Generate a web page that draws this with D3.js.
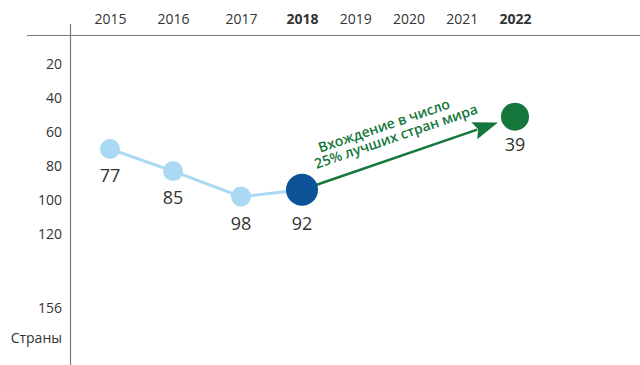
<!DOCTYPE html>
<html><head><meta charset="utf-8">
<script src="https://cdn.jsdelivr.net/npm/d3@7"></script>
<style>
html,body{margin:0;padding:0;background:#fff;}
svg{display:block;font-family:"Open Sans",sans-serif;}
</style></head>
<body>
<div id="chart"></div>
<script>
// ---- data ----
const years = [2015, 2016, 2017, 2018, 2019, 2020, 2021, 2022];
const boldYears = [2018, 2022];
const yTicks = [20, 40, 60, 80, 100, 120, 156];
const yTitle = "Страны";
const historyYears = [2015, 2016, 2017, 2018];
const historyRankPlotted = [70, 83, 98, 94];   // position as drawn
const historyRankLabel = [77, 85, 98, 92];
const targetYear = [2022];
const targetRankPlotted = [51];
const targetRankLabel = [39];
const annotationLines = ["Вхождение в число", "25% лучших стран мира"];

const W = 640, H = 365;
const svg = d3.select("#chart").append("svg").attr("width", W).attr("height", H);

const x = d3.scaleLinear().domain([2015, 2016, 2017, 2018, 2022]).range([110, 173, 241, 302, 515]);
const y = d3.scaleLinear().domain([20, 120, 156]).range([64, 234, 308]);

const grey = "#7a7a7a", txt = "#333333";
const light = "#a9d9f3", dark = "#0b5297", green = "#15773b";

// axes lines
svg.append("line").attr("x1", 27).attr("x2", W).attr("y1", 35.5).attr("y2", 35.5)
  .attr("stroke", grey).attr("stroke-width", 1.2);
svg.append("line").attr("x1", 70.5).attr("x2", 70.5).attr("y1", 24).attr("y2", H)
  .attr("stroke", grey).attr("stroke-width", 1.2);

// top year axis
const xAxis = d3.axisTop(x).tickValues(years).tickFormat(d3.format("d")).tickSize(0).tickPadding(0);
const gx = svg.append("g").attr("transform", "translate(0,24)").call(xAxis);
gx.select(".domain").remove();
gx.selectAll("text").attr("font-size", 14).attr("fill", txt).attr("dy", 0)
  .attr("font-weight", d => boldYears.includes(d) ? 700 : 400)
  .attr("font-family", "'Open Sans',sans-serif");

// left rank axis
const yAxis = d3.axisLeft(y).tickValues(yTicks).tickSize(0).tickPadding(0);
const gy = svg.append("g").attr("transform", "translate(62,0)").call(yAxis);
gy.select(".domain").remove();
gy.selectAll("text").attr("font-size", 14).attr("fill", txt)
  .attr("font-family", "'Open Sans',sans-serif").attr("dy", "0.35em");
svg.append("text").attr("x", 62).attr("y", 343).attr("text-anchor", "end")
  .attr("font-size", 14).attr("fill", txt).text(yTitle);

// history line
const hist = historyYears.map((yr, i) => ({yr, v: historyRankPlotted[i], lab: historyRankLabel[i]}));
svg.append("path").datum(hist)
  .attr("d", d3.line().x(d => x(d.yr)).y(d => y(d.v)))
  .attr("fill", "none").attr("stroke", light).attr("stroke-width", 3);

// arrow to target
const last = hist[hist.length - 1];
const tgt = {yr: targetYear[0], v: targetRankPlotted[0], lab: targetRankLabel[0]};
const x0 = x(last.yr), y0 = y(last.v), x1 = x(tgt.yr), y1 = y(tgt.v);
const ang = Math.atan2(y1 - y0, x1 - x0);
const sx = x0 + Math.cos(ang) * 14, sy = y0 + Math.sin(ang) * 14;
const tx = x1 - Math.cos(ang) * 18, ty = y1 - Math.sin(ang) * 18;
const headL = 25, headW = 9;
const bx = tx - Math.cos(ang) * headL, by = ty - Math.sin(ang) * headL;
svg.append("line").attr("x1", sx).attr("y1", sy).attr("x2", bx + Math.cos(ang) * 3).attr("y2", by + Math.sin(ang) * 3)
  .attr("stroke", green).attr("stroke-width", 2.5);
svg.append("path")
  .attr("d", `M${tx},${ty} L${bx - Math.sin(ang) * headW},${by + Math.cos(ang) * headW} L${bx + Math.cos(ang)*4},${by + Math.sin(ang)*4} L${bx + Math.sin(ang) * headW},${by - Math.cos(ang) * headW} Z`)
  .attr("fill", green);

// points
svg.selectAll("circle.h").data(hist).join("circle")
  .attr("cx", d => x(d.yr)).attr("cy", d => y(d.v))
  .attr("r", (d, i) => i === hist.length - 1 ? 16 : 10)
  .attr("fill", (d, i) => i === hist.length - 1 ? dark : light);
svg.append("circle").attr("cx", x1).attr("cy", y1).attr("r", 14).attr("fill", green);

// value labels
const labOff = d => (d === last ? 34 : 27);
svg.selectAll("text.v").data(hist).join("text")
  .attr("x", d => x(d.yr)).attr("y", d => y(d.v) + labOff(d) + 6)
  .attr("text-anchor", "middle").attr("font-size", 18).attr("fill", txt)
  .text(d => d.lab);
svg.append("text").attr("x", x1).attr("y", y1 + 34).attr("text-anchor", "middle")
  .attr("font-size", 18).attr("fill", txt).text(tgt.lab);

// annotation
const deg = ang * 180 / Math.PI;
const ann = svg.append("g").attr("transform", `translate(390,131) rotate(${deg})`);
ann.selectAll("text").data(annotationLines).join("text")
  .attr("x", (d, i) => i === 0 ? -4 : 4).attr("y", (d, i) => i === 0 ? -2 : 12)
  .attr("text-anchor", "middle").attr("font-size", 14).attr("font-weight", 600)
  .attr("fill", green).text(d => d);
</script>
</body></html>
